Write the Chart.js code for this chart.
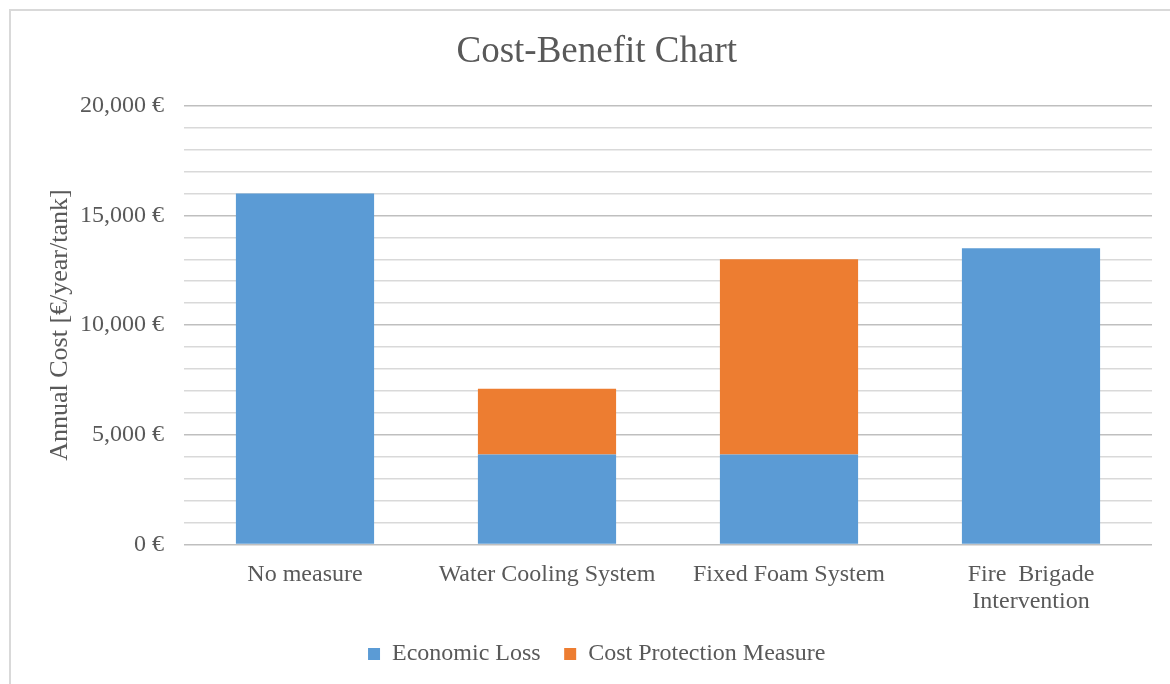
<!DOCTYPE html>
<html lang="en">
<head>
    <meta charset="UTF-8">
    <title>Cost-Benefit Chart</title>
    <script src="https://cdn.jsdelivr.net/npm/chart.js"></script>
    <style>
        body { margin: 0; background: #fff; }
        .frame {
            position: absolute;
            left: 9px;
            top: 9px;
            width: 1161px;
            height: 675px;
            border-top: 2px solid #d9d9d9;
            border-left: 2px solid #d9d9d9;
        }
        #costChart { position: absolute; left: 0; top: 0; }
    </style>
</head>
<body>
    <div class="frame"></div>
    <canvas id="costChart" width="1170" height="684"></canvas>
    <script>
        // Annual cost per tank for each protection option
        const measures = ['No measure', 'Water Cooling System', 'Fixed Foam System', ['Fire  Brigade', 'Intervention']];
        const economicLoss = [16000, 4100, 4100, 13500];
        const protectionCost = [0, 3000, 8900, 0];
        const yTicksMajor = 5000;

        const serif = "'Liberation Serif', 'Times New Roman', serif";
        const textGrey = '#595959';

        const ctx = document.getElementById('costChart').getContext('2d');
        const costChart = new Chart(ctx, {
            type: 'bar',
            data: {
                labels: measures,
                datasets: [{
                    label: 'Economic Loss',
                    data: economicLoss,
                    backgroundColor: '#5b9bd5',
                    categoryPercentage: 1.0,
                    barPercentage: 0.571
                }, {
                    label: 'Cost Protection Measure',
                    data: protectionCost,
                    backgroundColor: '#ed7d31',
                    categoryPercentage: 1.0,
                    barPercentage: 0.571
                }]
            },
            options: {
                responsive: false,
                animation: false,
                layout: {
                    padding: { left: 41.5, right: 18, top: 0, bottom: 8 }
                },
                plugins: {
                    title: {
                        display: true,
                        text: 'Cost-Benefit Chart',
                        color: textGrey,
                        font: { family: serif, size: 37, weight: 'normal' },
                        padding: { top: 30, bottom: 31.3 }
                    },
                    legend: {
                        position: 'bottom',
                        labels: {
                            color: textGrey,
                            font: { family: serif, size: 24 },
                            boxWidth: 12,
                            boxHeight: 12,
                            padding: 23.5
                        }
                    },
                    tooltip: { enabled: false }
                },
                scales: {
                    x: {
                        stacked: true,
                        grid: { display: false },
                        border: { display: false },
                        ticks: {
                            color: textGrey,
                            font: { family: serif, size: 24, lineHeight: 1.12 },
                            padding: 9,
                            maxRotation: 0
                        },
                        // tall enough that the two-line label is not clipped
                        afterFit: function(scale) { scale.height = 74; }
                    },
                    y: {
                        stacked: true,
                        min: 0,
                        max: 20000,
                        border: { display: false },
                        grid: {
                            drawTicks: false,
                            lineWidth: 1.5,
                            color: function(c) {
                                return c.tick && c.tick.value % yTicksMajor === 0 ? '#bfbfbf' : '#d9d9d9';
                            }
                        },
                        ticks: {
                            stepSize: 1000,
                            autoSkip: false,
                            padding: 20,
                            color: textGrey,
                            font: { family: serif, size: 24 },
                            callback: function(value) {
                                if (value % yTicksMajor !== 0) return '';
                                return value.toLocaleString('en-US') + ' €';
                            }
                        },
                        title: {
                            display: true,
                            text: 'Annual Cost [€/year/tank]',
                            color: textGrey,
                            font: { family: serif, size: 26 },
                            padding: { top: 3, bottom: 0 }
                        },
                        afterFit: function(scale) { scale.width = 142.5; }
                    }
                }
            }
        });
    </script>
</body>
</html>
